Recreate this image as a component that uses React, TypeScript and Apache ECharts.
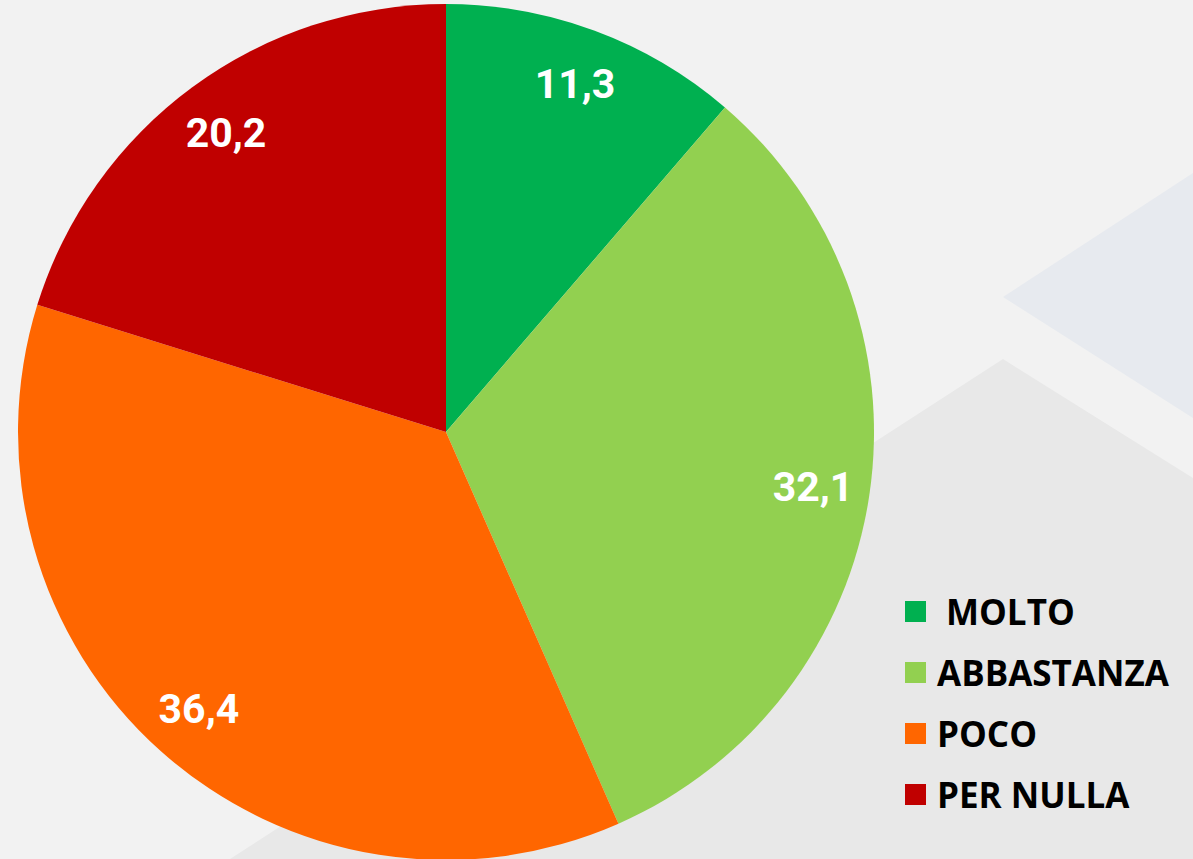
import React, { useEffect, useRef } from "react";
import * as echarts from "echarts";

const categories = ["MOLTO", "ABBASTANZA", "POCO", "PER NULLA"];
const values = [11.3, 32.1, 36.4, 20.2];
const valueLabels = ["11,3", "32,1", "36,4", "20,2"];
const colors = ["#00b050", "#92d050", "#ff6600", "#c00000"];

export default function App() {
  const ref = useRef<HTMLDivElement>(null);
  useEffect(() => {
    if (!ref.current) return;
    const chart = echarts.init(ref.current, undefined, { renderer: "svg" });
    const data = categories.map((name, i) => ({
      name,
      value: values[i],
      itemStyle: { color: colors[i] },
    }));
    chart.setOption({
      animation: false,
      backgroundColor: "#f2f2f2",
      graphic: [
        {
          type: "polygon",
          z: -10,
          silent: true,
          shape: { points: [[1003, 297], [1193, 173], [1193, 418]] },
          style: { fill: "#e7eaef" },
        },
        {
          type: "polygon",
          z: -10,
          silent: true,
          shape: { points: [[1003, 359], [1193, 478], [1193, 859], [230, 859]] },
          style: { fill: "#e8e8e8" },
        },
      ],
      legend: {
        orient: "vertical",
        left: 905,
        top: 594,
        padding: 0,
        itemWidth: 21,
        itemHeight: 21,
        itemGap: 26,
        icon: "rect",
        data: categories.map((name, i) => ({ name, itemStyle: { color: colors[i] } })),
        formatter: (name: string) => (name === "MOLTO" ? "{s|}" + name : name),
        textStyle: {
          fontFamily: "Open Sans",
          fontWeight: "bold",
          fontSize: 35,
          lineHeight: 35,
          color: "#000000",
          padding: [0, 0, 0, 6],
          rich: {
            s: { width: 9, fontSize: 35, lineHeight: 35 },
          },
        },
      },
      series: [
        {
          type: "pie",
          center: [446, 432],
          radius: [0, 428],
          startAngle: 90,
          clockwise: true,
          label: { show: false },
          labelLine: { show: false },
          itemStyle: { borderWidth: 0 },
          emphasis: { disabled: true },
          data,
        },
        {
          type: "pie",
          center: [446, 432],
          radius: [340, 396],
          startAngle: 90,
          clockwise: true,
          silent: true,
          itemStyle: { color: "rgba(0,0,0,0)", borderWidth: 0 },
          label: {
            show: true,
            position: "inside",
            formatter: (p: any) => valueLabels[p.dataIndex],
            color: "#ffffff",
            fontFamily: "Roboto",
            fontWeight: "bold",
            fontSize: 41,
          },
          labelLine: { show: false },
          emphasis: { disabled: true },
          data: categories.map((name, i) => ({ name, value: values[i] })),
        },
      ],
    });
    return () => chart.dispose();
  }, []);
  return (
    <div
      ref={ref}
      style={{ position: "absolute", left: 0, top: 0, width: 1193, height: 859 }}
    />
  );
}
